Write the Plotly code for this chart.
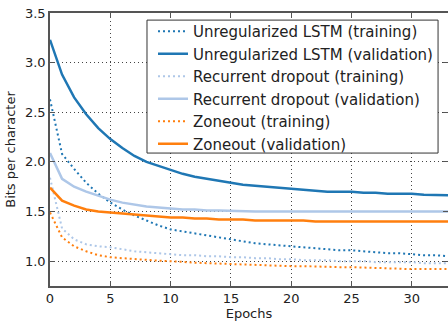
import plotly.graph_objects as go

epochs = list(range(0, 34))

unreg_train = [2.63, 2.08, 1.93, 1.79, 1.68, 1.59, 1.52, 1.46, 1.41, 1.36, 1.32, 1.30, 1.28, 1.26,
               1.24, 1.22, 1.20, 1.18, 1.17, 1.16, 1.15, 1.14, 1.13, 1.12, 1.11, 1.11, 1.10, 1.09,
               1.08, 1.08, 1.07, 1.06, 1.06, 1.05]
unreg_val = [3.23, 2.88, 2.65, 2.48, 2.34, 2.23, 2.14, 2.06, 2.00, 1.96, 1.92, 1.88, 1.85, 1.83,
             1.81, 1.79, 1.77, 1.76, 1.75, 1.74, 1.73, 1.72, 1.71, 1.70, 1.70, 1.70, 1.69, 1.69,
             1.68, 1.68, 1.68, 1.67, 1.67, 1.665]
rd_train = [1.84, 1.33, 1.22, 1.17, 1.15, 1.14, 1.12, 1.10, 1.09, 1.08, 1.07, 1.06, 1.06, 1.05,
            1.05, 1.04, 1.04, 1.03, 1.03, 1.02, 1.02, 1.01, 1.01, 1.01, 1.00, 1.00, 1.00, 0.99,
            0.99, 0.99, 0.99, 0.98, 0.98, 0.98]
rd_val = [2.09, 1.83, 1.75, 1.70, 1.66, 1.62, 1.59, 1.57, 1.55, 1.54, 1.53, 1.52, 1.52, 1.51,
          1.51, 1.505, 1.50, 1.50, 1.50, 1.50, 1.50, 1.50, 1.50, 1.50, 1.50, 1.50, 1.50, 1.50,
          1.50, 1.50, 1.50, 1.50, 1.50, 1.50]
zo_train = [1.49, 1.24, 1.15, 1.10, 1.06, 1.04, 1.03, 1.02, 1.01, 1.005, 1.00, 0.99, 0.985, 0.98,
            0.975, 0.97, 0.965, 0.96, 0.96, 0.955, 0.95, 0.95, 0.945, 0.945, 0.94, 0.94, 0.935, 0.93,
            0.93, 0.925, 0.92, 0.92, 0.92, 0.92]
zo_val = [1.74, 1.61, 1.56, 1.52, 1.50, 1.49, 1.48, 1.47, 1.46, 1.45, 1.44, 1.44, 1.43, 1.43,
          1.42, 1.42, 1.42, 1.41, 1.41, 1.41, 1.41, 1.41, 1.40, 1.40, 1.40, 1.40, 1.40, 1.40,
          1.40, 1.40, 1.40, 1.40, 1.40, 1.40]

series = [
    ("Unregularized LSTM (training)", unreg_train, "#1f77b4", "2px,3px", 2),
    ("Unregularized LSTM (validation)", unreg_val, "#1f77b4", "solid", 2.5),
    ("Recurrent dropout (training)", rd_train, "#aec7e8", "2px,3px", 2),
    ("Recurrent dropout (validation)", rd_val, "#aec7e8", "solid", 2.5),
    ("Zoneout (training)", zo_train, "#ff7f0e", "2px,3px", 2),
    ("Zoneout (validation)", zo_val, "#ff7f0e", "solid", 2.5),
]

fig = go.Figure()
for i, (name, ys, color, dash, w) in enumerate(series):
    fig.add_trace(go.Scatter(x=epochs, y=ys, mode="lines", name=name,
                             line=dict(color=color, dash=dash, width=w)))

axis_common = dict(
    showline=True, linecolor="#555555", linewidth=1.5, mirror="ticks",
    ticks="inside", ticklen=5, tickcolor="#555555", automargin=False,
    showgrid=True, gridcolor="#444444", griddash="1px,3px", gridwidth=1,
    zeroline=False, tickfont=dict(family="DejaVu Sans", size=13, color="#222222"),
)

# legend frame (white box behind the legend entries)
fig.add_shape(type="rect", xref="paper", yref="paper",
              x0=0.2437, x1=0.975, y0=0.487, y1=0.974, layer="above",
              fillcolor="white", line=dict(color="#333333", width=1))

fig.update_layout(
    width=448, height=321,
    margin=dict(l=50, r=0, t=13, b=35),
    paper_bgcolor="white", plot_bgcolor="white",
    font=dict(family="DejaVu Sans", color="#222222"),
    xaxis=dict(range=[0, 33.0], tickvals=[0, 5, 10, 15, 20, 25, 30],
               title=dict(text="Epochs", font=dict(size=13), standoff=2), **axis_common),
    yaxis=dict(range=[0.75, 3.5], tickvals=[1.0, 1.5, 2.0, 2.5, 3.0, 3.5], tickformat=".1f",
               title=dict(text="Bits per character", font=dict(size=13), standoff=6), **axis_common),
    legend=dict(x=0.2588, y=0.9927, xanchor="left", yanchor="top",
                bgcolor="rgba(0,0,0,0)", borderwidth=0,
                font=dict(family="DejaVu Sans", size=15, color="#222222"),
                tracegroupgap=0),
    showlegend=True,
)

fig.write_html("out.html", config={"displayModeBar": False},
               post_script="document.body.style.margin='0';document.body.style.padding='0';")
